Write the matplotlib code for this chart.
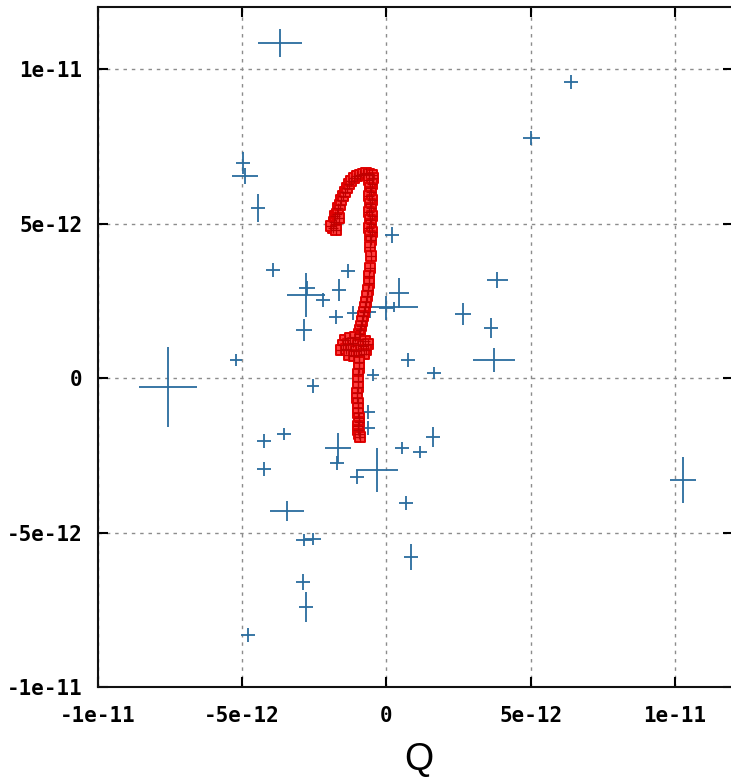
import matplotlib
matplotlib.use('Agg')
import matplotlib.pyplot as plt
import numpy as np

# scale of the data (values below are in units of 1e-12)
escala = 1e-12

# blue points with error bars: x, y, xerr, yerr
azul_x = [-3.67, -4.96, -4.89, -4.44, -3.92, -2.77, -2.74, -2.18, -1.63, -1.73,
          -1.32, -2.84, -1.14, -7.56, -5.20, -2.53, 6.41, 5.03, 0.21, 0.45,
          0.28, 0.00, 3.85, 2.67, 3.64, 3.74, 0.76, 1.66, -0.45, -4.23,
          -3.54, -4.23, -3.43, -1.66, -1.70, -1.01, -2.84, -2.53, -2.88, -2.77,
          -4.78, -0.62, -0.62, 0.55, 1.18, 1.63, -0.31, 0.69, 0.87, 10.29,
          -0.55]
azul_y = [10.86, 6.97, 6.55, 5.51, 3.50, 2.70, 2.92, 2.53, 2.86, 1.98,
          3.47, 1.57, 2.11, -0.28, 0.59, -0.25, 9.59, 7.78, 4.64, 2.76,
          2.31, 2.28, 3.18, 2.08, 1.63, 0.59, 0.59, 0.17, 0.11, -2.03,
          -1.80, -2.94, -4.29, -2.25, -2.74, -3.18, -5.23, -5.20, -6.59, -7.40,
          -8.30, -1.08, -1.61, -2.25, -2.38, -1.90, -2.97, -4.03, -5.78, -3.29,
          2.15]
azul_xerr = [0.76, 0.24, 0.45, 0.24, 0.24, 0.66, 0.28, 0.24, 0.24, 0.24,
             0.24, 0.28, 0.21, 1.00, 0.21, 0.21, 0.24, 0.28, 0.24, 0.35,
             0.83, 0.24, 0.35, 0.28, 0.24, 0.73, 0.24, 0.24, 0.21, 0.24,
             0.24, 0.24, 0.59, 0.45, 0.24, 0.24, 0.28, 0.28, 0.24, 0.24,
             0.24, 0.24, 0.24, 0.24, 0.24, 0.24, 0.73, 0.24, 0.24, 0.45,
             0.21]
azul_yerr = [0.45, 0.36, 0.26, 0.45, 0.23, 0.71, 0.23, 0.23, 0.36, 0.23,
             0.23, 0.36, 0.23, 1.29, 0.20, 0.23, 0.23, 0.23, 0.27, 0.49,
             0.16, 0.39, 0.26, 0.36, 0.32, 0.39, 0.23, 0.20, 0.20, 0.23,
             0.20, 0.23, 0.32, 0.49, 0.23, 0.23, 0.20, 0.20, 0.26, 0.49,
             0.23, 0.23, 0.23, 0.20, 0.20, 0.32, 0.71, 0.23, 0.42, 0.74,
             0.20]

# red trajectory points
rojo_x = [-1.84, -1.80, -1.73, -1.77, -1.70, -1.66, -1.59, -1.91, -1.63, -1.73,
          -1.56, -1.49, -1.42, -1.35, -1.28, -1.21, -1.11, -1.01, -0.90, -0.80,
          -0.69, -0.59, -0.49, -0.45,
          -0.59, -0.49, -0.55, -0.52, -0.59, -0.49, -0.55, -0.52, -0.59, -0.49,
          -0.55, -0.52, -0.59, -0.49, -0.55, -0.52,
          -0.55, -0.52, -0.55, -0.59, -0.59, -0.62, -0.66, -0.69, -0.73, -0.76,
          -0.80, -0.83, -0.87, -0.90, -0.94,
          -1.42, -1.25, -1.07, -0.90, -0.73, -1.49, -1.32, -1.14, -0.97, -0.80,
          -0.62, -1.56, -1.39, -1.21, -1.04, -0.87, -0.69, -1.28, -1.11, -0.94,
          -0.76,
          -0.94, -0.94, -0.97, -0.97, -0.97, -1.01, -1.01, -0.97, -0.97, -0.97,
          -0.94, -0.94, -0.97, -0.97, -0.94, -0.90]
rojo_y = [4.86, 5.06, 5.00, 5.25, 5.32, 5.51, 5.61, 4.93, 5.19, 4.80,
          5.77, 5.90, 6.03, 6.16, 6.29, 6.39, 6.48, 6.55, 6.58, 6.61,
          6.64, 6.61, 6.58, 6.48,
          6.42, 6.29, 6.16, 6.03, 5.90, 5.77, 5.64, 5.51, 5.38, 5.25,
          5.12, 5.00, 4.86, 4.73, 4.60, 4.47,
          4.25, 3.96, 3.57, 3.31, 3.08, 2.86, 2.66, 2.47, 2.31, 2.15,
          2.02, 1.86, 1.70, 1.57, 1.44,
          1.24, 1.30, 1.34, 1.27, 1.21, 1.08, 1.11, 1.14, 1.08, 1.05,
          1.11, 0.92, 0.95, 0.92, 0.88, 0.92, 0.92, 0.75, 0.72, 0.75,
          0.79,
          0.53, 0.33, 0.14, -0.09, -0.28, -0.48, -0.64, -0.80, -0.96, -1.13,
          -1.29, -1.42, -1.55, -1.68, -1.81, -1.90]

ticks = [-1e-11, -5e-12, 0, 5e-12, 1e-11]
etiquetas = ['-1e-11', '-5e-12', '0', '5e-12', '1e-11']

fig = plt.figure(figsize=(7.31, 7.79), dpi=100)
ax = fig.add_axes([0.1334, 0.1175, 0.869, 0.873])

# grid punteado gris
ax.grid(True, color='#8c8c8c', linestyle=(0, (2.5, 3.5)), linewidth=1.0)
ax.set_axisbelow(True)

ax.errorbar(np.array(azul_x) * escala, np.array(azul_y) * escala,
            xerr=np.array(azul_xerr) * escala, yerr=np.array(azul_yerr) * escala,
            fmt='none', ecolor='#2a6c9e', elinewidth=1.3, capsize=0, zorder=3)

# puntos rojos: cuadro con cruz
rx = np.array(rojo_x) * escala
ry = np.array(rojo_y) * escala
ax.scatter(rx, ry, marker='s', s=60, facecolor='#ff4040', edgecolor='#e00000',
           linewidth=1.4, zorder=4)
ax.scatter(rx, ry, marker='+', s=60, color='#c00000', linewidth=0.9, zorder=5)

ax.set_xlim(-1e-11, 1.2e-11)
ax.set_ylim(-1e-11, 1.2e-11)
ax.set_xticks(ticks)
ax.set_xticklabels(etiquetas)
ax.set_yticks(ticks)
ax.set_yticklabels(etiquetas)

for s in ax.spines.values():
    s.set_linewidth(1.5)
    s.set_color('#111111')

ax.tick_params(direction='in', length=7, width=1.5, top=True, right=True,
               labelsize=15)
ax.tick_params(axis='x', pad=13)
ax.tick_params(axis='y', pad=11)
for lab in ax.get_xticklabels() + ax.get_yticklabels():
    lab.set_fontfamily('DejaVu Sans Mono')
    lab.set_fontweight('bold')

fig.text(419 / 731, 1 - 760 / 779, 'Q', fontsize=27, family='Liberation Sans',
         ha='center', va='center')

plt.savefig('out.png', dpi=100)
print("listo")
